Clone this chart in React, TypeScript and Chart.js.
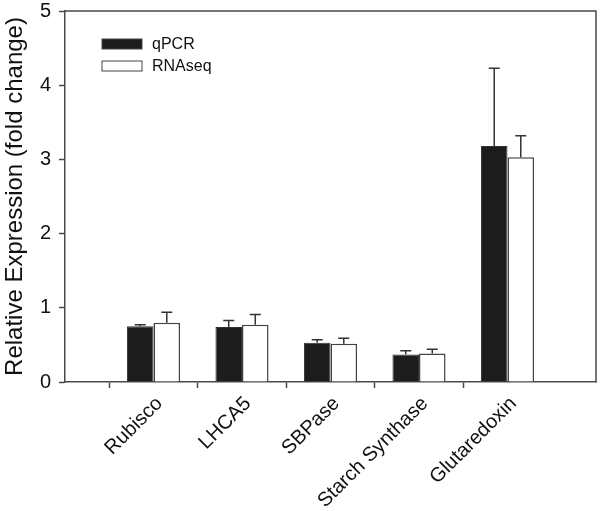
import React, { useEffect, useRef } from "react";
import { Chart, registerables } from "chart.js";

Chart.register(...registerables);

const categories = ["", "Rubisco", "LHCA5", "SBPase", "Starch Synthase", "Glutaredoxin", ""];
const qpcrValues = [null, 0.75, 0.74, 0.53, 0.37, 3.18, null];
const qpcrErrors = [null, 0.02, 0.09, 0.04, 0.05, 1.05, null];
const rnaseqValues = [null, 0.80, 0.77, 0.515, 0.385, 3.03, null];
const rnaseqErrors = [null, 0.14, 0.14, 0.075, 0.055, 0.29, null];
const yTicks = [0, 1, 2, 3, 4, 5];

const FONT = "'Liberation Sans', Arial, Helvetica, sans-serif";
const AXIS = "#4a4a4a";

const errorBarPlugin = {
  id: "errorBars",
  afterDatasetsDraw(chart: any) {
    const ctx = chart.ctx;
    const y = chart.scales.y;
    const errs = [qpcrErrors, rnaseqErrors];
    ctx.save();
    ctx.strokeStyle = "#333";
    ctx.lineWidth = 1.5;
    chart.data.datasets.forEach((ds: any, di: number) => {
      const meta = chart.getDatasetMeta(di);
      meta.data.forEach((bar: any, i: number) => {
        const v = ds.data[i];
        const e = errs[di][i];
        if (v == null || e == null) return;
        const x = bar.x;
        const y0 = y.getPixelForValue(v);
        const y1 = y.getPixelForValue(v + e);
        ctx.beginPath();
        ctx.moveTo(x, y0);
        ctx.lineTo(x, y1);
        ctx.moveTo(x - 5.5, y1);
        ctx.lineTo(x + 5.5, y1);
        ctx.stroke();
      });
    });
    ctx.restore();
  },
};

const framePlugin = {
  id: "frame",
  afterDraw(chart: any) {
    const { ctx, chartArea } = chart;
    ctx.save();
    ctx.strokeStyle = AXIS;
    ctx.lineWidth = 1.5;
    ctx.beginPath();
    ctx.moveTo(chartArea.left, chartArea.top);
    ctx.lineTo(chartArea.right, chartArea.top);
    ctx.lineTo(chartArea.right, chartArea.bottom);
    ctx.stroke();
    // legend
    const items = chart.data.datasets;
    ctx.font = `16px ${FONT}`;
    ctx.textBaseline = "middle";
    items.forEach((ds: any, i: number) => {
      const bx = chartArea.left + 37;
      const by = chartArea.top + 28 + i * 22;
      ctx.fillStyle = ds.backgroundColor;
      ctx.fillRect(bx, by, 40, 10);
      ctx.strokeStyle = "#444";
      ctx.lineWidth = 1;
      ctx.strokeRect(bx, by, 40, 10);
      ctx.fillStyle = "#111";
      ctx.fillText(ds.label, bx + 50, by + 5.5);
    });
    ctx.restore();
  },
};

export default function App() {
  const ref = useRef<HTMLCanvasElement>(null);
  useEffect(() => {
    document.body.style.margin = "0";
    const chart = new Chart(ref.current!, {
      type: "bar",
      data: {
        labels: categories,
        datasets: [
          {
            label: "qPCR",
            data: qpcrValues as any,
            backgroundColor: "#1c1c1c",
            borderColor: "#333",
            borderWidth: 1,
            categoryPercentage: 0.6,
            barPercentage: 1.0,
          },
          {
            label: "RNAseq",
            data: rnaseqValues as any,
            backgroundColor: "#ffffff",
            borderColor: "#444",
            borderWidth: 1.5,
            categoryPercentage: 0.6,
            barPercentage: 1.0,
          },
        ],
      },
      options: {
        responsive: false,
        animation: false,
        layout: { padding: { top: 11, right: 4, left: 0, bottom: 0 } },
        plugins: { legend: { display: false }, tooltip: { enabled: false } },
        scales: {
          x: {
            offset: false,
            grid: {
              drawOnChartArea: false,
              tickLength: 6,
              tickColor: (c: any) => (c.index === 0 || c.index === categories.length - 1 ? "rgba(0,0,0,0)" : AXIS),
              tickWidth: 1.5,
            },
            border: { display: true, color: AXIS, width: 1.5 },
            ticks: {
              autoSkip: false,
              maxRotation: 45,
              minRotation: 45,
              padding: 4,
              labelOffset: 6,
              color: "#111",
              font: { family: FONT, size: 20 },
            },
            afterFit: (s: any) => {
              s.height = 129;
              s.paddingLeft = 0;
              s.paddingRight = 0;
            },
          },
          y: {
            min: 0,
            max: 5,
            afterBuildTicks: (s: any) => {
              s.ticks = yTicks.map((v) => ({ value: v }));
            },
            grid: { drawOnChartArea: false, tickLength: 6, tickColor: AXIS, tickWidth: 1.5 },
            border: { display: true, color: AXIS, width: 1.5 },
            ticks: { padding: 8, color: "#111", font: { family: FONT, size: 20 } },
            title: {
              display: true,
              text: "Relative Expression (fold change)",
              color: "#111",
              font: { family: FONT, size: 24 },
              padding: { top: 1, bottom: 0 },
            },
            afterFit: (s: any) => {
              s.width = 65;
              s.paddingTop = 0;
              s.paddingBottom = 0;
            },
          },
        },
      },
      plugins: [errorBarPlugin, framePlugin],
    });
    return () => chart.destroy();
  }, []);
  return (
    <div style={{ position: "absolute", left: 0, top: 0, width: 600, height: 511 }}>
      <canvas ref={ref} width={600} height={511} />
    </div>
  );
}
